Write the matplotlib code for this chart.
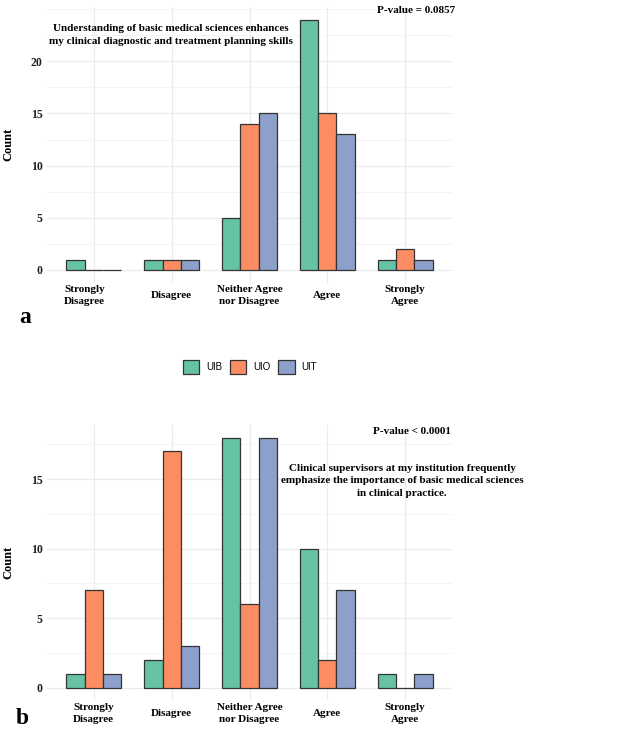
import matplotlib
matplotlib.use("Agg")
import matplotlib.pyplot as plt
import matplotlib.transforms as mtransforms
import numpy as np
from matplotlib.patches import Patch

categories = ["Strongly\nDisagree", "Disagree", "Neither Agree\nnor Disagree", "Agree", "Strongly\nAgree"]
groups = ["UIB", "UIO", "UIT"]
colors = ["#66C2A5", "#FC8D62", "#8DA0CB"]

# panel a
a_uib = [1, 1, 5, 24, 1]
a_uio = [0, 1, 14, 15, 2]
a_uit = [0, 1, 15, 13, 1]
a_pvalue = "P-value = 0.0857"
a_note = "Understanding of basic medical sciences enhances\nmy clinical diagnostic and treatment planning skills"

# panel b
b_uib = [1, 2, 18, 10, 1]
b_uio = [7, 17, 6, 2, 0]
b_uit = [1, 3, 18, 7, 1]
b_pvalue = "P-value < 0.0001"
b_note = ("Clinical supervisors at my institution frequently\n"
          "emphasize the importance of basic medical sciences\n"
          "in clinical practice.")

SERIF = "Liberation Serif"
W, H = 617, 732
FS = 8


def draw_panel(ax, series, ytop, yticks, yminor):
    x = np.arange(len(categories))
    bw = 0.7 / 3
    for i, vals in enumerate(series):
        ax.bar(x + (i - 1) * bw, vals, width=bw, color=colors[i],
               edgecolor="#333333", linewidth=0.9, zorder=3)
    ax.set_xlim(-0.6, len(categories) - 0.4)
    ax.set_ylim(-0.05 * ytop / 1.05, ytop)
    ax.set_xticks(x)
    ax.set_xticklabels(categories, fontfamily=SERIF, fontweight="bold", fontsize=FS,
                       linespacing=1.4)
    for lab in ax.get_xticklabels():
        lab.set_va("center")
    ax.set_yticks(yticks)
    ax.set_yticks(yminor, minor=True)
    ax.set_yticklabels([str(t) for t in yticks], fontfamily=SERIF, fontweight="bold",
                       fontsize=FS + 0.5, color="#222222")
    ax.tick_params(axis="x", length=0, pad=9.5)
    ax.tick_params(axis="y", length=0, pad=3)
    ax.tick_params(axis="y", which="minor", length=0)
    ax.grid(True, which="major", color="#EBEBEB", linewidth=0.9, zorder=0)
    ax.grid(True, which="minor", axis="y", color="#F2F2F2", linewidth=0.6, zorder=0)
    for s in ax.spines.values():
        s.set_visible(False)
    ax.set_ylabel("Count", fontfamily=SERIF, fontweight="bold", fontsize=9, labelpad=12)
    ax.set_axisbelow(True)


fig = plt.figure(figsize=(W / 100, H / 100), dpi=100)

axa = fig.add_axes([47 / W, 1 - 282.5 / H, 405 / W, 275.5 / H])
draw_panel(axa, [a_uib, a_uio, a_uit], 25.2, [0, 5, 10, 15, 20], [2.5, 7.5, 12.5, 17.5, 22.5, 25])
# first label sits a little left of its bars in the original
first = axa.get_xticklabels()[0]
first.set_transform(first.get_transform() + mtransforms.ScaledTranslation(-0.09, 0, fig.dpi_scale_trans))
axa.text(4.14, 24.9, a_pvalue, ha="center", va="center", fontfamily=SERIF,
         fontweight="bold", fontsize=FS, clip_on=False)
axa.text(0.99, 22.5, a_note, ha="center", va="center", fontfamily=SERIF,
         fontweight="bold", fontsize=FS, linespacing=1.5, clip_on=False)

axb = fig.add_axes([47 / W, 1 - 700 / H, 405 / W, 275 / H])
draw_panel(axb, [b_uib, b_uio, b_uit], 18.9, [0, 5, 10, 15], [2.5, 7.5, 12.5, 17.5])
axb.text(4.08, 18.4, b_pvalue, ha="center", va="center", fontfamily=SERIF,
         fontweight="bold", fontsize=FS, clip_on=False)
axb.text(3.96, 14.9, b_note, ha="center", va="center", fontfamily=SERIF,
         fontweight="bold", fontsize=FS, linespacing=1.5, clip_on=False)

handles = [Patch(facecolor=c, edgecolor="#333333", linewidth=0.9) for c in colors]
fig.legend(handles, groups, loc="center", bbox_to_anchor=(250 / W, 1 - 367 / H),
           ncol=3, frameon=False, prop={"family": "Liberation Sans", "size": 7},
           handlelength=1.7, handleheight=1.7, handletextpad=0.7, columnspacing=0.8)

fig.text(25 / W, 1 - 318 / H, "a", fontfamily=SERIF, fontweight="bold", fontsize=17,
         ha="center", va="center")
fig.text(22 / W, 1 - 719 / H, "b", fontfamily=SERIF, fontweight="bold", fontsize=17,
         ha="center", va="center")

fig.savefig("out.png", dpi=100)
